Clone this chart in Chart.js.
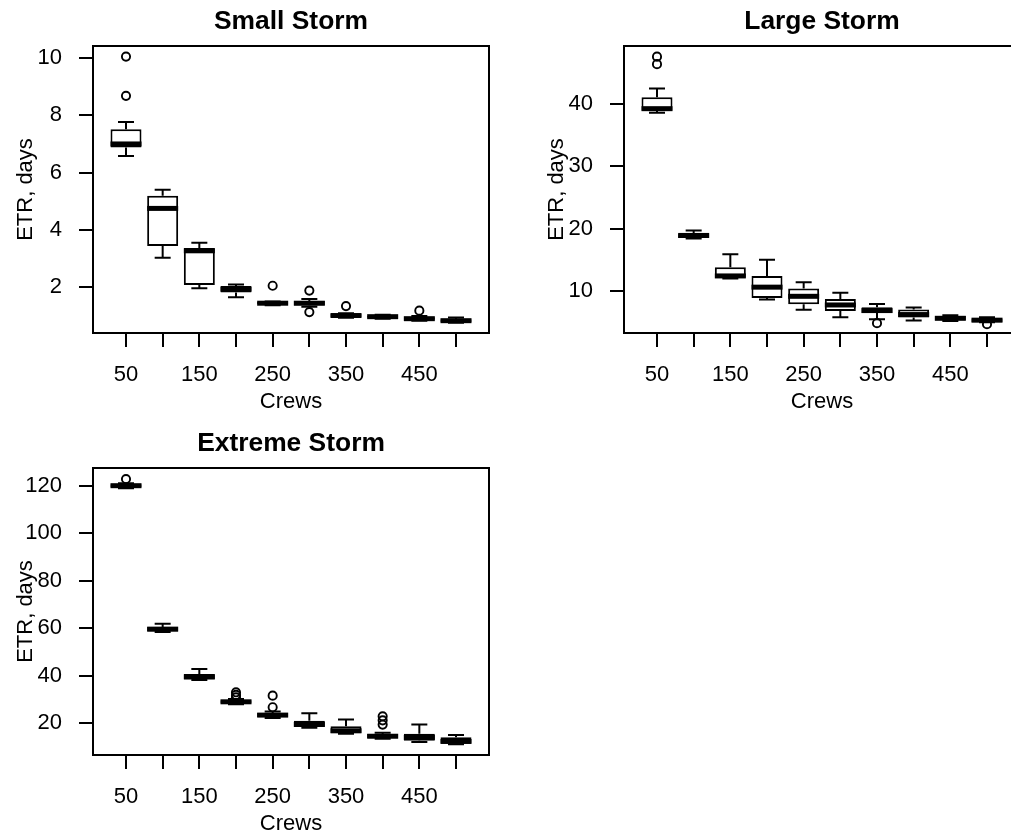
<!DOCTYPE html>
<html><head><meta charset="utf-8">
<script src="https://cdn.jsdelivr.net/npm/chart.js@4.4.1/dist/chart.umd.min.js"></script>
<style>
html,body{margin:0;padding:0;background:#fff;overflow:hidden;width:1011px;height:837px;position:relative;}
canvas{position:absolute;}
</style></head><body>
<canvas id="c1" width="531" height="422" style="left:0;top:0"></canvas>
<canvas id="c2" width="531" height="422" style="left:531px;top:0"></canvas>
<canvas id="c3" width="531" height="422" style="left:0;top:422px"></canvas>
<script>
// ---- categories / tick labels ----
const crews = [50, 100, 150, 200, 250, 300, 350, 400, 450, 500];
const xTickLabels = ['50', '', '150', '', '250', '', '350', '', '450', ''];

// ---- Small Storm ----
const smallLo  = [6.58, 3.03, 1.96, 1.65, 1.37, 1.32, 0.93, 0.90, 0.83, 0.76];
const smallQ1  = [6.88, 3.44, 2.08, 1.81, 1.40, 1.36, 0.96, 0.93, 0.86, 0.78];
const smallMed = [7.00, 4.75, 3.27, 1.93, 1.44, 1.44, 1.01, 0.97, 0.90, 0.83];
const smallQ3  = [7.51, 5.19, 3.37, 2.04, 1.48, 1.52, 1.06, 1.00, 0.95, 0.88];
const smallHi  = [7.77, 5.40, 3.55, 2.09, 1.50, 1.59, 1.09, 1.04, 0.99, 0.94];
const smallOut = [[10.05, 8.68], [], [], [], [2.05], [1.88, 1.13], [1.34], [], [1.18], []];
const smallYTicks = [2, 4, 6, 8, 10];

// ---- Large Storm ----
const largeLo  = [38.6, 18.4, 12.0, 8.6, 6.98, 5.76, 5.46, 5.24, 5.15, 4.95];
const largeQ1  = [38.9, 18.5, 12.1, 8.86, 7.85, 6.77, 6.47, 5.72, 5.30, 5.00];
const largeMed = [39.25, 18.9, 12.4, 10.6, 9.13, 7.74, 6.84, 6.20, 5.60, 5.30];
const largeQ3  = [41.1, 19.2, 13.8, 12.4, 10.4, 8.7, 7.38, 7.0, 5.95, 5.55];
const largeHi  = [42.5, 19.7, 15.9, 15.0, 11.4, 9.7, 7.91, 7.32, 6.10, 5.75];
const largeOut = [[47.6, 46.4], [], [], [], [], [], [4.82], [], [], [4.66]];
const largeYTicks = [10, 20, 30, 40];

// ---- Extreme Storm ----
const extLo  = [118.9, 58.4, 38.2, 28.0, 22.2, 18.1, 15.5, 13.4, 12.1, 11.1];
const extQ1  = [119.3, 58.6, 38.4, 28.3, 22.6, 18.4, 15.8, 13.8, 12.6, 11.4];
const extMed = [120.0, 59.6, 39.5, 29.0, 23.4, 19.5, 16.8, 14.5, 14.0, 12.3];
const extQ3  = [120.6, 60.5, 40.7, 29.7, 24.3, 21.0, 18.7, 15.4, 15.6, 14.1];
const extHi  = [121.0, 61.9, 42.8, 30.2, 24.9, 24.2, 21.5, 16.0, 19.4, 15.0];
const extOut = [[122.8], [], [], [33.0, 31.9, 30.9], [31.6, 26.7], [], [], [22.9, 21.2, 19.4], [], []];
const extYTicks = [20, 40, 60, 80, 100, 120];

const FONT = "'Liberation Sans', Arial, Helvetica, sans-serif";
Chart.defaults.font.family = FONT;
Chart.defaults.color = '#000';

const BOX_W = 31, STAPLE_W = 16, LW = 2, MED_LW = 5;

function boxParts(st) {
  return {
    id: 'boxParts',
    beforeDatasetsDraw(chart) {
      const {ctx, scales: {x, y}} = chart;
      ctx.save();
      ctx.strokeStyle = '#000';
      ctx.lineWidth = LW;
      ctx.lineCap = 'butt';
      st.med.forEach((m, i) => {
        const px = x.getPixelForValue(i + 1);
        const yq1 = y.getPixelForValue(st.q1[i]), yq3 = y.getPixelForValue(st.q3[i]);
        const ylo = y.getPixelForValue(st.lo[i]), yhi = y.getPixelForValue(st.hi[i]);
        ctx.beginPath();
        ctx.moveTo(px, yq3); ctx.lineTo(px, yhi);
        ctx.moveTo(px, yq1); ctx.lineTo(px, ylo);
        ctx.moveTo(px - STAPLE_W / 2, yhi); ctx.lineTo(px + STAPLE_W / 2, yhi);
        ctx.moveTo(px - STAPLE_W / 2, ylo); ctx.lineTo(px + STAPLE_W / 2, ylo);
        ctx.stroke();
      });
      ctx.restore();
    },
    afterDatasetsDraw(chart) {
      const {ctx, chartArea: a, scales: {x, y}} = chart;
      ctx.save();
      ctx.strokeStyle = '#000';
      ctx.lineCap = 'butt';
      ctx.lineWidth = MED_LW;
      st.med.forEach((m, i) => {
        const px = x.getPixelForValue(i + 1);
        const ym = y.getPixelForValue(m);
        ctx.beginPath();
        ctx.moveTo(px - BOX_W / 2, ym); ctx.lineTo(px + BOX_W / 2, ym);
        ctx.stroke();
      });
      ctx.lineWidth = LW;
      ctx.strokeRect(a.left, a.top, a.right - a.left, a.bottom - a.top);
      ctx.restore();
    }
  };
}

function makeChart(id, title, st, outliers, yTicks, yMin, yMax) {
  const boxData = crews.map((c, i) => ({x: i + 1, y: [st.q1[i], st.q3[i]]}));
  const outData = [];
  outliers.forEach((arr, i) => arr.forEach(v => outData.push({x: i + 1, y: v})));
  new Chart(document.getElementById(id), {
    type: 'bar',
    data: {
      datasets: [
        {
          type: 'bar', data: boxData,
          backgroundColor: '#fff', borderColor: '#000', borderWidth: LW,
          borderSkipped: false, barThickness: BOX_W, inflateAmount: 0
        },
        {
          type: 'scatter', data: outData,
          pointStyle: 'circle', pointRadius: 4.1, borderWidth: 1.9,
          borderColor: '#000', backgroundColor: 'rgba(0,0,0,0)'
        }
      ]
    },
    options: {
      responsive: false, animation: false, devicePixelRatio: 1,
      layout: {padding: {left: 0, right: 42, top: 0, bottom: 0}},
      plugins: {
        legend: {display: false}, tooltip: {enabled: false},
        title: {
          display: true, text: title, fullSize: false, color: '#000',
          font: {size: 26.4, weight: 'bold', family: FONT, lineHeight: 1.2},
          padding: {top: 6, bottom: 8.32}
        }
      },
      scales: {
        x: {
          type: 'linear', min: 0.1, max: 10.9, offset: false,
          afterBuildTicks: s => { s.ticks = crews.map((c, i) => ({value: i + 1})); },
          afterFit: s => { s.height = 89; },
          grid: {display: true, offset: false, drawOnChartArea: false, drawTicks: true, tickLength: 14, color: '#000', lineWidth: LW},
          border: {display: true, color: '#000', width: LW},
          ticks: {
            autoSkip: false, maxRotation: 0, minRotation: 0, padding: 15, color: '#000',
            font: {size: 22, family: FONT},
            callback: (v) => xTickLabels[Math.round(v) - 1] ?? ''
          },
          title: {display: true, text: 'Crews', color: '#000', font: {size: 22, family: FONT}, padding: {top: 0, bottom: 7}}
        },
        y: {
          type: 'linear', min: yMin, max: yMax,
          afterBuildTicks: s => { s.ticks = yTicks.map(v => ({value: v})); },
          afterFit: s => { s.width = 93; },
          grid: {display: true, drawOnChartArea: false, drawTicks: true, tickLength: 14, color: '#000', lineWidth: LW},
          border: {display: true, color: '#000', width: LW},
          ticks: {padding: 17, color: '#000', font: {size: 22, family: FONT}, callback: v => String(v)},
          title: {display: true, text: 'ETR, days', color: '#000', font: {size: 22, family: FONT}, padding: {top: 13, bottom: 0}}
        }
      }
    },
    plugins: [boxParts(st)]
  });
}

makeChart('c1', 'Small Storm',
  {lo: smallLo, q1: smallQ1, med: smallMed, q3: smallQ3, hi: smallHi}, smallOut, smallYTicks, 0.40, 10.42);
makeChart('c2', 'Large Storm',
  {lo: largeLo, q1: largeQ1, med: largeMed, q3: largeQ3, hi: largeHi}, largeOut, largeYTicks, 3.24, 49.31);
makeChart('c3', 'Extreme Storm',
  {lo: extLo, q1: extQ1, med: extMed, q3: extQ3, hi: extHi}, extOut, extYTicks, 6.6, 127.45);
</script>
</body></html>
